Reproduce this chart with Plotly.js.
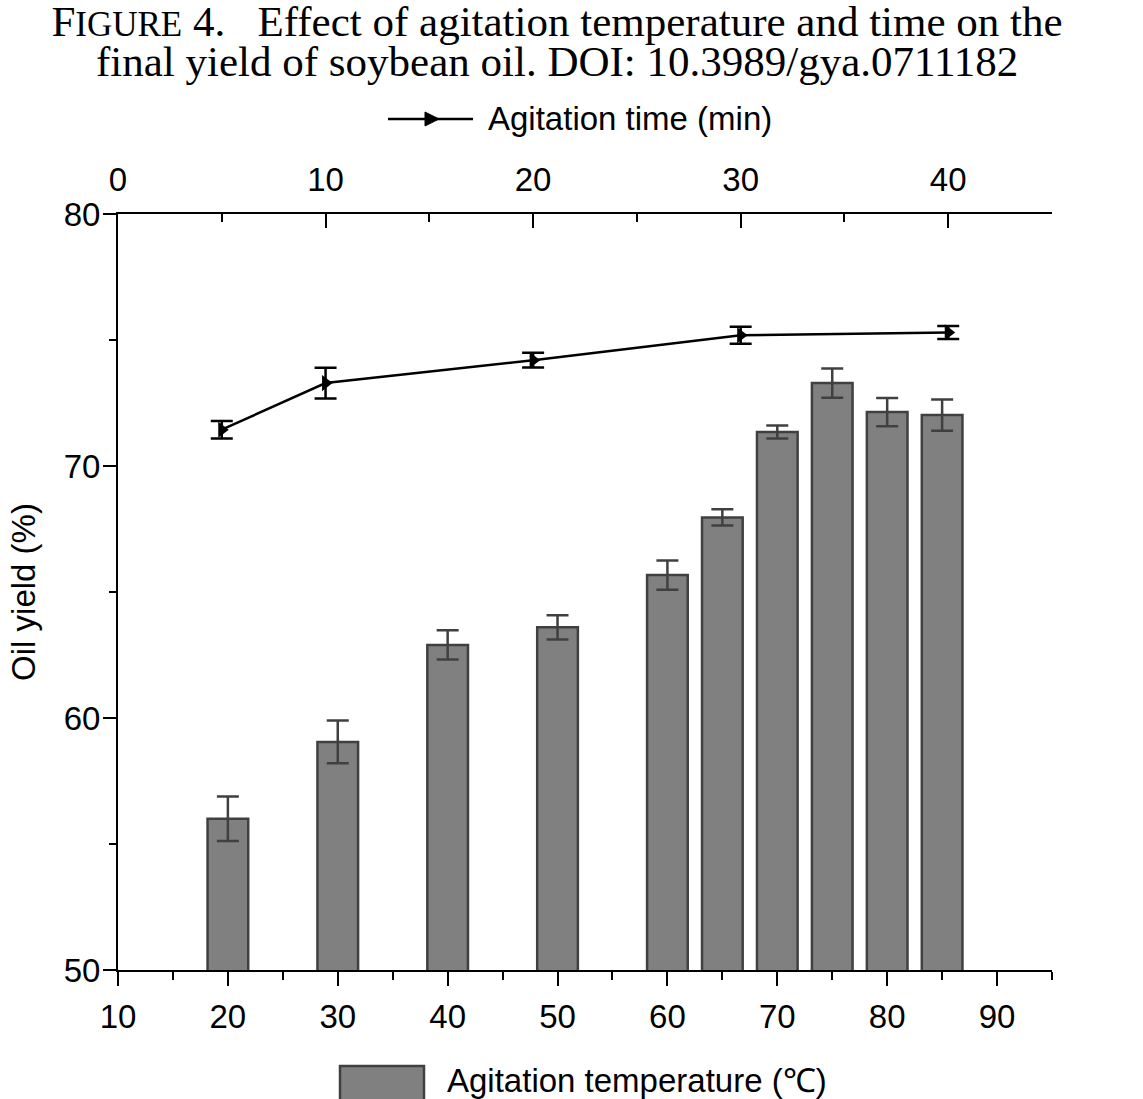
<!DOCTYPE html>
<html>
<head>
<meta charset="utf-8">
<script src="https://cdn.plot.ly/plotly-3.0.1.min.js"></script>
<style>
  body { margin: 0; background: #fff; }
  #chart { width: 1143px; height: 1099px; }
</style>
</head>
<body>
<div id="chart"></div>
<script>
// Agitation temperature (bars, bottom axis)
var tempC = [20, 30, 40, 50, 60, 65, 70, 75, 80, 85];
var tempYield = [56.0, 59.05, 62.9, 63.6, 65.67, 67.96, 71.35, 73.29, 72.14, 72.02];
var tempErr = [0.88, 0.85, 0.58, 0.48, 0.58, 0.32, 0.26, 0.58, 0.56, 0.62];

// Agitation time (line, top axis)
var timeMin = [5, 10, 20, 30, 40];
var timeYield = [71.44, 73.29, 74.2, 75.19, 75.3];
var timeErr = [0.35, 0.61, 0.29, 0.34, 0.26];

var sans = 'Liberation Sans, Arial, sans-serif';
var serif = 'Liberation Serif, Times New Roman, serif';

// pixel -> paper helpers for the hand-drawn legends
var L = 118, R = 1052, T = 214, B = 970;
function px(x) { return (x - L) / (R - L); }
function py(y) { return (B - y) / (B - T); }

var bars = {
  type: 'bar',
  x: tempC,
  y: tempYield,
  width: 3.7,
  xaxis: 'x', yaxis: 'y',
  marker: { color: '#808080', line: { color: '#404040', width: 2.5 } },
  error_y: { type: 'data', array: tempErr, visible: true,
             color: '#404040', thickness: 2.5, width: 11 },
  showlegend: false,
  name: 'Agitation temperature (℃)'
};

var line = {
  type: 'scatter',
  mode: 'lines+markers',
  x: timeMin,
  y: timeYield,
  xaxis: 'x2', yaxis: 'y',
  line: { color: 'black', width: 2.5 },
  marker: { symbol: 'triangle-right', size: 14, color: 'black' },
  error_y: { type: 'data', array: timeErr, visible: true,
             color: 'black', thickness: 2.5, width: 11 },
  showlegend: false,
  name: 'Agitation time (min)'
};

var tickFont = { family: sans, size: 33, color: 'black' };

var layout = {
  width: 1143,
  height: 1099,
  margin: { l: L, r: 1143 - R, t: T, b: 1099 - B, pad: 0 },
  paper_bgcolor: 'white',
  plot_bgcolor: 'white',
  showlegend: false,
  bargap: 0,
  title: {
    text: 'F<span style="font-size:35px">IGURE</span> 4.\u2002 Effect of agitation temperature and time on the',
    font: { family: serif, size: 43, color: 'black' },
    x: 557 / 1143, xanchor: 'center', xref: 'container',
    y: 1 - 21 / 1099, yanchor: 'middle', yref: 'container'
  },
  xaxis: {
    range: [10, 95],
    tick0: 10, dtick: 10,
    ticks: 'outside', ticklen: 14, tickwidth: 2, tickcolor: 'black',
    minor: { dtick: 5, tick0: 10, ticks: 'outside', ticklen: 8, tickwidth: 2, tickcolor: 'black' },
    showline: true, linewidth: 2, linecolor: 'black',
    showgrid: false, zeroline: false,
    tickfont: tickFont,
    ticklabelstandoff: 2
  },
  xaxis2: {
    overlaying: 'x', side: 'top', anchor: 'y',
    range: [0, 45],
    tick0: 0, dtick: 10,
    ticks: 'inside', ticklen: 14, tickwidth: 2, tickcolor: 'black',
    minor: { dtick: 5, tick0: 0, ticks: 'inside', ticklen: 8, tickwidth: 2, tickcolor: 'black' },
    showline: true, linewidth: 2, linecolor: 'black',
    showgrid: false, zeroline: false,
    tickfont: tickFont,
    ticklabelstandoff: 8
  },
  yaxis: {
    range: [50, 80],
    tick0: 50, dtick: 10,
    ticks: 'outside', ticklen: 13, tickwidth: 2, tickcolor: 'black',
    minor: { dtick: 5, tick0: 50, ticks: 'outside', ticklen: 7, tickwidth: 2, tickcolor: 'black' },
    showline: true, linewidth: 2, linecolor: 'black',
    showgrid: false, zeroline: false,
    tickfont: tickFont,
    ticklabelstandoff: -4,
    title: { text: 'Oil yield (%)', font: { family: sans, size: 33, color: 'black' }, standoff: 18 }
  },
  yaxis2: {
    overlaying: 'y', side: 'right', anchor: 'x',
    range: [50, 80],
    tick0: 50, dtick: 10,
    ticks: 'inside', ticklen: 14, tickwidth: 2, tickcolor: 'black',
    minor: { dtick: 5, tick0: 50, ticks: 'inside', ticklen: 7, tickwidth: 2, tickcolor: 'black' },
    showline: true, linewidth: 2, linecolor: 'black',
    showgrid: false, zeroline: false,
    tickfont: tickFont,
    ticklabelstandoff: 14
  },
  shapes: [
    // top legend: line sample with triangle
    { type: 'line', xref: 'paper', yref: 'paper',
      x0: px(388), x1: px(473), y0: py(119), y1: py(119),
      line: { color: 'black', width: 2.5 } },
    { type: 'path', xref: 'paper', yref: 'paper',
      path: 'M ' + px(425) + ' ' + py(112) + ' L ' + px(439) + ' ' + py(119) +
            ' L ' + px(425) + ' ' + py(126) + ' Z',
      fillcolor: 'black', line: { color: 'black', width: 1 } },
    // bottom legend: bar swatch
    { type: 'rect', xref: 'paper', yref: 'paper',
      x0: px(340), x1: px(424), y0: py(1066), y1: py(1102),
      fillcolor: '#808080', line: { color: '#404040', width: 2.5 } }
  ],
  annotations: [
    { text: 'final yield of soybean oil. DOI: 10.3989/gya.0711182',
      xref: 'paper', yref: 'paper', x: px(557), y: py(62),
      xanchor: 'center', yanchor: 'middle', showarrow: false,
      font: { family: serif, size: 43, color: 'black' } },
    { text: 'Agitation time (min)',
      xref: 'paper', yref: 'paper', x: px(486), y: py(118),
      xanchor: 'left', yanchor: 'middle', showarrow: false,
      font: { family: sans, size: 33, color: 'black' } },
    { text: 'Agitation temperature (℃)',
      xref: 'paper', yref: 'paper', x: px(445), y: py(1080),
      xanchor: 'left', yanchor: 'middle', showarrow: false,
      font: { family: sans, size: 33, color: 'black' } }
  ]
};

Plotly.newPlot('chart', [bars, line], layout, { displayModeBar: false, staticPlot: true });
</script>
</body>
</html>
